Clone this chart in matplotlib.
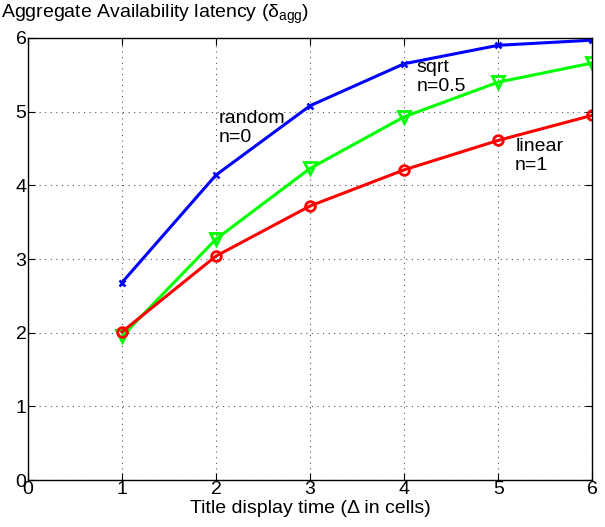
import numpy as np
import matplotlib.pyplot as plt

plt.rcParams['font.family'] = ['Liberation Sans', 'DejaVu Sans']
plt.rcParams['mathtext.fontset'] = 'custom'
plt.rcParams['mathtext.rm'] = 'Liberation Sans'
plt.rcParams['mathtext.it'] = 'Liberation Sans'

# data
x = [1, 2, 3, 4, 5, 6]
random_n0 = [2.68, 4.14, 5.08, 5.65, 5.90, 5.97]
sqrt_n05 = [1.95, 3.27, 4.23, 4.93, 5.40, 5.66]
linear_n1 = [2.01, 3.04, 3.72, 4.21, 4.61, 4.95]

fig = plt.figure(figsize=(6.05, 5.27), dpi=100)
ax = fig.add_axes([0.046, 0.089, 0.933, 0.839])

ax.plot(x, random_n0, color='#0000ff', lw=2.2, marker='x', ms=5, mew=1.8)
ax.plot(x, sqrt_n05, color='#00ff00', lw=2.2, marker='v', ms=8, mfc='none', mew=2)
ax.plot(x, linear_n1, color='#ff0000', lw=2.2, marker='o', ms=7, mfc='none', mew=2)

fs = 14
ax.text(2.03, 5.02, 'random\nn=0', fontsize=fs, va='top', ha='left', linespacing=1.15)
ax.text(4.13, 5.72, 'sqrt\nn=0.5', fontsize=fs, va='top', ha='left', linespacing=1.15)
ax.text(5.18, 4.64, 'linear\nn=1', fontsize=fs, va='top', ha='left', linespacing=1.15)

ax.set_xlim(0, 6)
ax.set_ylim(0, 6)
ax.set_xticks(range(7))
ax.set_yticks(range(7))
ax.grid(True, linestyle=(0, (1, 4)), color='#555555', lw=0.8)
ax.tick_params(direction='in', top=True, right=True, labelsize=fs, length=5, pad=1)
for s in ax.spines.values():
    s.set_linewidth(1.0)

ax.set_xlabel('Title display time (Δ in cells)', fontsize=fs, labelpad=1)
fig.text(0.002, 0.995, r'Aggregate Availability latency (δ$_{\rm agg}$)', fontsize=fs,
         ha='left', va='top')

fig.savefig('out.png', dpi=100)
